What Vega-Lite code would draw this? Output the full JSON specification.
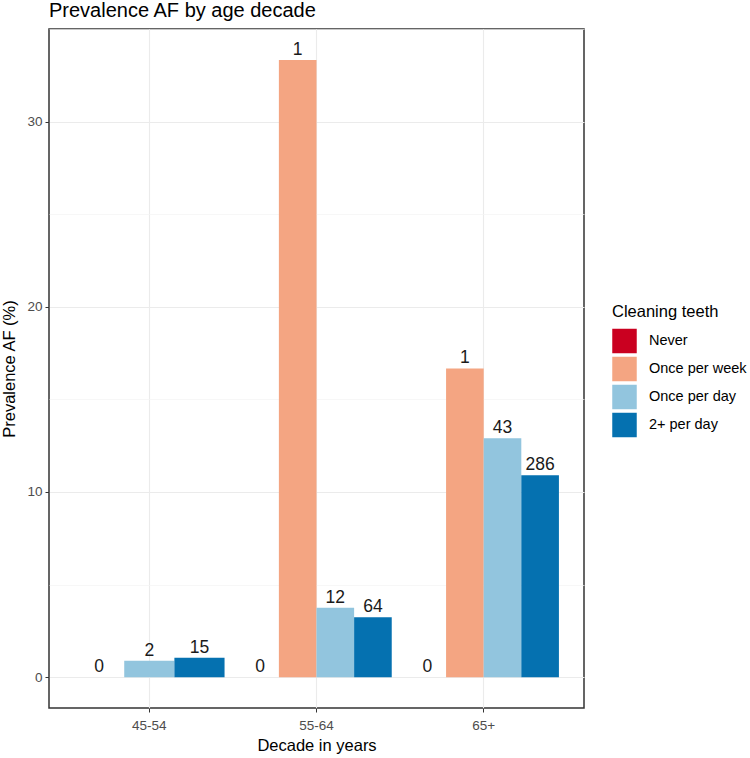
{
  "$schema": "https://vega.github.io/schema/vega-lite/v6.json",
  "width": 535,
  "height": 679,
  "autosize": "none",
  "padding": {"left": 49, "top": 29, "right": 166, "bottom": 50},
  "background": "white",
  "title": {
    "text": "Prevalence AF by age decade",
    "anchor": "start",
    "frame": "group",
    "baseline": "alphabetic",
    "offset": 11,
    "dy": 19,
    "fontSize": 20,
    "fontWeight": "normal",
    "font": "Liberation Sans",
    "color": "#000000"
  },
  "config": {
    "view": {"stroke": "#333333", "strokeWidth": 1.5},
    "font": "Liberation Sans"
  },
  "data": {
    "values": [
      {"decade": "45-54", "cleaning": "Never", "prevalence": 0, "n": 0},
      {"decade": "45-54", "cleaning": "Once per day", "prevalence": 0.88, "n": 2},
      {"decade": "45-54", "cleaning": "2+ per day", "prevalence": 1.05, "n": 15},
      {"decade": "55-64", "cleaning": "Never", "prevalence": 0, "n": 0},
      {"decade": "55-64", "cleaning": "Once per week", "prevalence": 33.33, "n": 1},
      {"decade": "55-64", "cleaning": "Once per day", "prevalence": 3.75, "n": 12},
      {"decade": "55-64", "cleaning": "2+ per day", "prevalence": 3.23, "n": 64},
      {"decade": "65+", "cleaning": "Never", "prevalence": 0, "n": 0},
      {"decade": "65+", "cleaning": "Once per week", "prevalence": 16.67, "n": 1},
      {"decade": "65+", "cleaning": "Once per day", "prevalence": 12.9, "n": 43},
      {"decade": "65+", "cleaning": "2+ per day", "prevalence": 10.9, "n": 286}
    ]
  },
  "encoding": {
    "x": {
      "field": "decade",
      "type": "nominal",
      "sort": ["45-54", "55-64", "65+"],
      "scale": {"paddingInner": 0.1, "paddingOuter": 0.15},
      "axis": {
        "title": "Decade in years",
        "titleFontSize": 16.5,
        "titleFontWeight": "normal",
        "titleColor": "#000000",
        "titlePadding": 6,
        "labelFontSize": 13.5,
        "labelColor": "#4D4D4D",
        "labelAngle": 0,
        "labelPadding": 6,
        "tickSize": 4,
        "tickColor": "#333333",
        "domain": false,
        "grid": true,
        "gridColor": "#EBEBEB",
        "gridWidth": 1.1
      }
    },
    "y": {
      "field": "prevalence",
      "type": "quantitative",
      "scale": {"domain": [-1.667, 35], "nice": false, "zero": false},
      "axis": {
        "title": "Prevalence AF (%)",
        "titleFontSize": 16.5,
        "titleFontWeight": "normal",
        "titleColor": "#000000",
        "titlePadding": 9,
        "values": [0, 5, 10, 15, 20, 25, 30, 35],
        "labelExpr": "datum.value % 10 === 0 ? datum.label : ''",
        "labelFontSize": 13.5,
        "labelColor": "#4D4D4D",
        "labelPadding": 3,
        "tickSize": 4,
        "tickColor": "#333333",
        "tickOpacity": {"condition": {"test": "datum.value % 10 === 0", "value": 1}, "value": 0},
        "domain": false,
        "grid": true,
        "gridColor": {"condition": {"test": "datum.value % 10 === 0", "value": "#EBEBEB"}, "value": "#F3F3F3"},
        "gridWidth": {"condition": {"test": "datum.value % 10 === 0", "value": 1.1}, "value": 0.7}
      }
    },
    "color": {
      "field": "cleaning",
      "type": "nominal",
      "scale": {
        "domain": ["Never", "Once per week", "Once per day", "2+ per day"],
        "range": ["#CA0020", "#F4A582", "#92C5DE", "#0571B0"]
      },
      "legend": {
        "orient": "none",
        "legendX": 563,
        "legendY": 275,
        "title": "Cleaning teeth",
        "titleFontSize": 16.5,
        "titleFontWeight": "normal",
        "titleColor": "#000000",
        "titlePadding": 8,
        "labelFontSize": 14.5,
        "labelColor": "#000000",
        "labelOffset": 12,
        "symbolType": "square",
        "symbolSize": 600,
        "symbolStrokeWidth": 0,
        "symbolOpacity": 1,
        "rowPadding": 3,
        "padding": 0
      }
    }
  },
  "layer": [
    {
      "transform": [{"filter": "datum.decade === '45-54'"}],
      "encoding": {
        "xOffset": {
          "field": "cleaning",
          "type": "nominal",
          "scale": {"domain": ["Never", "Once per day", "2+ per day"], "paddingInner": 0, "paddingOuter": 0}
        }
      },
      "layer": [
        {"mark": {"type": "bar"}},
        {
          "mark": {"type": "text", "baseline": "alphabetic", "dy": -5, "fontSize": 17.5, "font": "Liberation Sans"},
          "encoding": {"text": {"field": "n", "type": "quantitative"}, "color": {"value": "#1A1A1A"}}
        }
      ]
    },
    {
      "transform": [{"filter": "datum.decade !== '45-54'"}],
      "encoding": {
        "xOffset": {
          "field": "cleaning",
          "type": "nominal",
          "scale": {"domain": ["Never", "Once per week", "Once per day", "2+ per day"], "paddingInner": 0, "paddingOuter": 0}
        }
      },
      "layer": [
        {"mark": {"type": "bar"}},
        {
          "mark": {"type": "text", "baseline": "alphabetic", "dy": -5, "fontSize": 17.5, "font": "Liberation Sans"},
          "encoding": {"text": {"field": "n", "type": "quantitative"}, "color": {"value": "#1A1A1A"}}
        }
      ]
    }
  ],
  "resolve": {"scale": {"xOffset": "independent"}}
}
